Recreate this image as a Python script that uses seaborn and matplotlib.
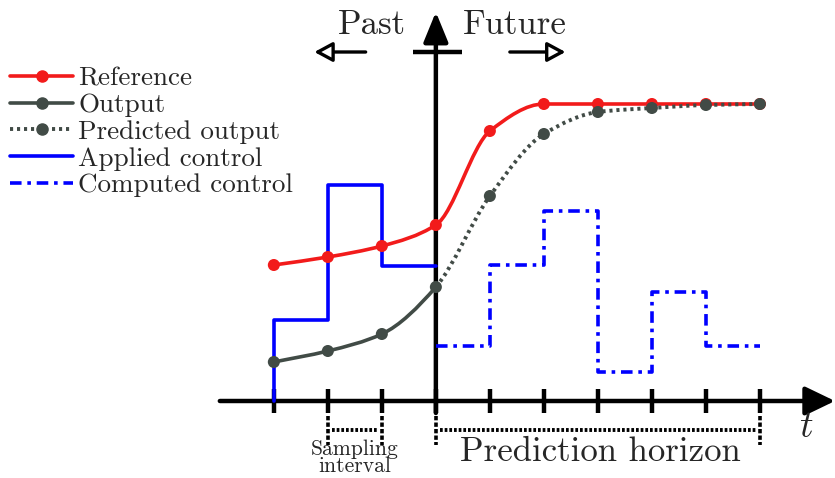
import numpy as np
import seaborn as sns
import matplotlib.pyplot as plt
from matplotlib.path import Path
from matplotlib.patches import PathPatch, FancyArrowPatch
from matplotlib.lines import Line2D

# time steps (k = 0 is "now")
k_all = [-3, -2, -1, 0, 1, 2, 3, 4, 5, 6]
reference = [1.36, 1.44, 1.55, 1.76, 2.70, 2.97, 2.97, 2.97, 2.97, 2.97]
output = [0.39, 0.50, 0.67, 1.14, 2.05, 2.67, 2.89, 2.93, 2.96, 2.97]  # k>0 is predicted
k_past_u = [-3, -3, -2, -1, 0]
u_applied = [0.0, 0.81, 2.16, 1.35, 1.35]
k_future_u = [0, 1, 2, 3, 4, 5, 6]
u_computed = [0.55, 1.36, 1.90, 0.29, 1.09, 0.55, 0.55]

RED = '#f21b1b'
GRAY = '#414b46'
BLUE = '#0000ff'

sns.set_theme(style='white')
plt.rcParams['font.family'] = ['cmr10', 'DejaVu Serif']
plt.rcParams['mathtext.fontset'] = 'cm'


def smooth_path(xs, ys):
    # monotone cubic (Fritsch-Carlson) drawn as bezier segments
    xs = np.asarray(xs, float)
    ys = np.asarray(ys, float)
    h = np.diff(xs)
    d = np.diff(ys) / h
    m = np.zeros(len(xs))
    m[0], m[-1] = d[0], d[-1]
    for i in range(1, len(xs) - 1):
        if d[i - 1] * d[i] > 0:
            m[i] = 2 / (1 / d[i - 1] + 1 / d[i])
    verts = [(xs[0], ys[0])]
    codes = [Path.MOVETO]
    for i in range(len(xs) - 1):
        verts += [(xs[i] + h[i] / 3, ys[i] + m[i] * h[i] / 3),
                  (xs[i + 1] - h[i] / 3, ys[i + 1] - m[i + 1] * h[i] / 3),
                  (xs[i + 1], ys[i + 1])]
        codes += [Path.CURVE4] * 3
    return verts, codes


fig = plt.figure(figsize=(8.35, 4.78), dpi=100)
ax = fig.add_axes([0, 0, 1, 1])
ax.set_xlim(-8.07, 7.39)
ax.set_ylim(-0.77, 4.01)
ax.axis('off')

# axes of the diagram
ax.add_patch(FancyArrowPatch((-4.0, 0), (7.39, 0), arrowstyle='-|>,head_length=0.83,head_width=0.4',
                             mutation_scale=22, lw=3.2, color='black', zorder=1, shrinkA=0, shrinkB=0))
ax.add_patch(FancyArrowPatch((0, -0.12), (0, 3.89), arrowstyle='-|>,head_length=0.83,head_width=0.34',
                             mutation_scale=22, lw=3.2, color='black', zorder=1, shrinkA=0, shrinkB=0))
for k in k_all:
    ax.plot([k, k], [-0.12, 0.12], color='black', lw=3.2, zorder=1, solid_capstyle='butt')
ax.plot([-0.43, 0.48], [3.49, 3.49], color='black', lw=3.2, solid_capstyle='butt')
for a, b in [((-1.3, 3.49), (-2.25, 3.49)), ((1.37, 3.49), (2.4, 3.49))]:
    ax.add_patch(FancyArrowPatch(a, b, arrowstyle='-|>,head_length=0.5,head_width=0.27',
                                 mutation_scale=22, lw=2.4, ec='black', fc='white',
                                 shrinkA=0, shrinkB=0))
ax.text(-1.19, 3.76, 'Past', fontsize=25, ha='center', va='center')
ax.text(1.46, 3.76, 'Future', fontsize=25, ha='center', va='center')

# brackets below the time axis
for k in [-2, -1, 0, 6]:
    ax.plot([k, k], [-0.15, -0.44], color='black', lw=2.6, ls=(0, (1.2, 0.6)), zorder=1)
ax.plot([-1.93, -1.07], [-0.29, -0.29], color='black', lw=2.8, ls=(0, (0.7, 0.5)))
ax.plot([0.07, 5.93], [-0.29, -0.29], color='black', lw=2.8, ls=(0, (0.7, 0.5)))
ax.text(-1.5, -0.38, 'Sampling\ninterval', fontsize=15.5, ha='center', va='top', linespacing=0.85)
ax.text(3.04, -0.51, 'Prediction horizon', fontsize=25, ha='center', va='center')
ax.text(6.85, -0.26, r'$t$', fontsize=27, ha='center', va='center')

# control signals
sns.lineplot(x=k_past_u, y=u_applied, ax=ax, color=BLUE, lw=2.6, drawstyle='steps-post',
             estimator=None, sort=False, zorder=2)
sns.lineplot(x=k_future_u, y=u_computed, ax=ax, color=BLUE, lw=2.6, drawstyle='steps-post',
             estimator=None, sort=False, ls=(0, (3.2, 1.6, 1, 1.6)), zorder=2)

# reference
v, c = smooth_path(k_all, reference)
ax.add_patch(PathPatch(Path(v, c), fc='none', ec=RED, lw=2.6, zorder=3))

# output: solid in the past, dotted prediction in the future
v, c = smooth_path(k_all, output)
n_past = 3 * 3 + 1
ax.add_patch(PathPatch(Path(v[:n_past], c[:n_past]), fc='none', ec=GRAY, lw=2.6, zorder=3))
ax.add_patch(PathPatch(Path(v[n_past - 1:], [Path.MOVETO] + c[n_past:]), fc='none', ec=GRAY,
                       lw=2.8, ls=(0, (0.8, 1.0)), zorder=3))

sns.scatterplot(x=k_all, y=reference, ax=ax, color=RED, s=75, edgecolor='none', zorder=4)
sns.scatterplot(x=k_all, y=output, ax=ax, color=GRAY, s=75, edgecolor='none', zorder=5)

handles = [
    Line2D([], [], color=RED, lw=2.6, marker='o', ms=8),
    Line2D([], [], color=GRAY, lw=2.6, marker='o', ms=8),
    Line2D([], [], color=GRAY, lw=2.8, ls=(0, (0.8, 1.0)), marker='o', ms=8),
    Line2D([], [], color=BLUE, lw=2.6),
    Line2D([], [], color=BLUE, lw=2.6, ls=(0, (3.2, 1.6, 1, 1.6))),
]
labels = ['Reference', 'Output', 'Predicted output', 'Applied control', 'Computed control']
fig.legend(handles, labels, loc='upper left', bbox_to_anchor=(0.006, 0.872), frameon=False,
           fontsize=19.5, handlelength=2.3, handletextpad=0.2, labelspacing=0.1,
           borderaxespad=0, borderpad=0.2)

fig.savefig('out.png', dpi=100)
